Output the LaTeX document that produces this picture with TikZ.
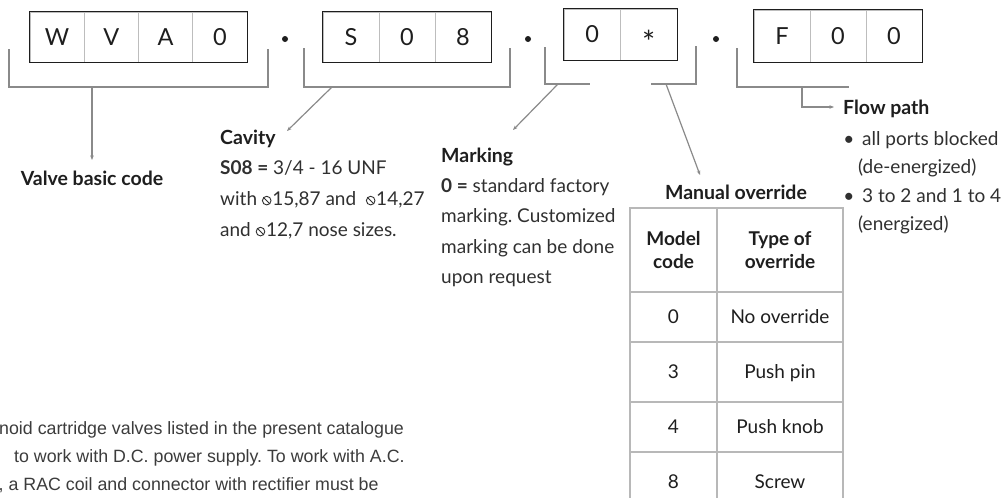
\documentclass[tikz,border=0pt]{standalone}
\usepackage{fontspec}
\setmainfont{Lato}
\newfontfamily\parafont{Liberation Sans}
\usetikzlibrary{arrows.meta}
\definecolor{ink}{HTML}{1E1E1E}
\definecolor{txt}{HTML}{303030}
\definecolor{brkc}{HTML}{8A8A8A}
\definecolor{divc}{HTML}{BDBDBD}
\definecolor{tblc}{HTML}{B8B8B8}
\definecolor{parac}{HTML}{3C3C3C}
% diameter sign (circle with reverse stroke), no installed family has U+29B8
\newcommand{\dia}{\tikz[baseline=0pt,x=1pt,y=1pt]{\draw[line width=0.9pt,txt] (0,4.4) circle (4.3pt);\draw[line width=0.9pt,txt] (-3.3,7.7) -- (3.3,1.1);}\hspace{0.8pt}}
\frenchspacing
\begin{document}
\begin{tikzpicture}[x=1pt,y=-1pt,
  brk/.style={draw=brkc, line width=1.2pt},
  arr/.style={brk, -{Stealth[length=4.5pt,width=3.5pt]}},
  cell/.style={draw=divc, line width=1pt, inner sep=0pt, minimum height=50pt,
    text height=16.5pt, text depth=0pt, font=\fontsize{23.5}{23.5}\selectfont, text=ink},
  outer/.style={draw=ink, line width=1.8pt},
  dotn/.style={circle, fill=ink, inner sep=0pt, minimum size=6pt},
  lbl/.style={anchor=base west, inner sep=0pt, font=\fontsize{19.5}{19.5}\selectfont\bfseries, text=ink},
  body/.style={anchor=base west, inner sep=0pt, font=\fontsize{19}{19}\selectfont, text=txt},
  para/.style={anchor=base west, inner sep=0pt, font=\parafont\fontsize{17.8}{17.8}\selectfont, text=parac},
  tcell/.style={draw=tblc, line width=1.5pt, inner sep=0pt, align=center, text=ink},
  trow/.style={tcell, text height=13pt, text depth=0pt, font=\fontsize{19}{19}\selectfont},
  thead/.style={tcell, font=\fontsize{19}{23}\selectfont\bfseries},
]
\clip (0,0) rectangle (1005,498);
\fill[white] (0,0) rectangle (1005,498);

% ---- code boxes ----
\node[cell, minimum width=54.25pt] (a1) at (57.125,37) {W};
\node[cell, minimum width=54.25pt] (a2) at (111.375,37) {V};
\node[cell, minimum width=54.25pt] (a3) at (165.625,37) {A};
\node[cell, minimum width=54.25pt] (a4) at (219.875,37) {0};
\draw[outer] (a1.north west) rectangle (a4.south east);

\node[cell, minimum width=56pt] (s1) at (351,37) {S};
\node[cell, minimum width=56pt] (s2) at (407,37) {0};
\node[cell, minimum width=56pt] (s3) at (463,37) {8};
\draw[outer] (s1.north west) rectangle (s3.south east);

\node[cell, minimum width=56.5pt, minimum height=51pt] (m1) at (592.25,34.5) {0};
\node[cell, minimum width=56.5pt, minimum height=51pt] (m2) at (648.75,34.5) {\raisebox{-10.5pt}{\fontsize{31}{31}\selectfont *}};
\draw[outer] (m1.north west) rectangle (m2.south east);

\node[cell, minimum width=56pt, minimum height=52pt] (f1) at (782,36) {F};
\node[cell, minimum width=56pt, minimum height=52pt] (f2) at (838,36) {0};
\node[cell, minimum width=56pt, minimum height=52pt] (f3) at (894,36) {0};
\draw[outer] (f1.north west) rectangle (f3.south east);

\node[dotn] (d1) at (285,39) {};
\node[dotn] (d2) at (528,39) {};
\node[dotn] (d3) at (716,39) {};

% ---- brackets ----
\coordinate (b1l) at (9,49);
\coordinate (b1r) at (268,49);
\coordinate (b1m) at (92,87);
\draw[brk] (b1l) -- (9,87) -- (268,87) -- (b1r);

\coordinate (b2l) at (304,48);
\coordinate (b2r) at (510,48);
\coordinate (b2m) at (332,87);
\draw[brk] (b2l) -- (304,87) -- (510,87) -- (b2r);

\coordinate (b3l) at (545,47);
\coordinate (b3le) at (590,84);
\coordinate (b3m) at (558,84);
\draw[brk] (b3l) -- (545,84) -- (b3le);

\coordinate (b3r) at (696,46);
\coordinate (b3re) at (651,84);
\coordinate (b3n) at (666,84);
\draw[brk] (b3re) -- (696,84) -- (b3r);

\coordinate (b4l) at (737,48);
\coordinate (b4e) at (849,87);
\coordinate (b4m) at (802,87);
\draw[brk] (b4l) -- (737,87) -- (b4e);

% ---- labels ----
\node[lbl, anchor=base] (vbc) at (92,185) {Valve basic code};
\draw[arr] (b1m) -- (vbc.north |- 0,160);

\node[lbl] (cav) at (220,144) {Cavity};
\node[body] (cav1) at (220,174) {\textbf{S08 =} 3/4 - 16 UNF};
\node[body] (cav2) at (220,205) {with \dia15,87 and \ \dia14,27};
\node[body] (cav3) at (220,236) {and \dia12,7 nose sizes.};
\coordinate (cavtip) at (287,131);
\draw[arr] (b2m) -- (cavtip);

\node[lbl] (mrk) at (441,162) {Marking};
\node[body] (mrk1) at (441,192) {\textbf{0 =} standard factory};
\node[body] (mrk2) at (441,222) {marking. Customized};
\node[body] (mrk3) at (441,253) {marking can be done};
\node[body] (mrk4) at (441,283) {upon request};
\coordinate (mrktip) at (513,130);
\draw[arr] (b3m) -- (mrktip);

\node[lbl, anchor=base] (mo) at (736,199) {Manual override};
\coordinate (motip) at (700,175);
\draw[arr] (b3n) -- (motip);

\node[lbl] (fp) at (843,114) {Flow path};
\coordinate (fptip) at (834,107);
\draw[arr] (b4m) -- (802,107) -- (fptip);
\node[body, anchor=base] (bu1) at (849,145) {•};
\node[body] (fp1) at (862,145) {all ports blocked};
\node[body] (fp2) at (858,173) {(de-energized)};
\node[body, anchor=base] (bu2) at (849,202) {•};
\node[body] (fp3) at (862,202) {3 to 2 and 1 to 4};
\node[body] (fp4) at (858,230) {(energized)};

% ---- table ----
\node[thead, minimum width=87pt, minimum height=84pt] (h1) at (673.5,250) {Model\\code};
\node[thead, minimum width=126pt, minimum height=84pt] (h2) at (780,250) {Type of\\override};
\node[trow, minimum width=87pt, minimum height=50pt] (r01) at (673.5,317) {0};
\node[trow, minimum width=126pt, minimum height=50pt] (r02) at (780,317) {No override};
\node[trow, minimum width=87pt, minimum height=60pt] (r31) at (673.5,372) {3};
\node[trow, minimum width=126pt, minimum height=60pt] (r32) at (780,372) {Push pin};
\node[trow, minimum width=87pt, minimum height=50pt] (r41) at (673.5,427) {4};
\node[trow, minimum width=126pt, minimum height=50pt] (r42) at (780,427) {Push knob};
\node[trow, minimum width=87pt, minimum height=60pt] (r81) at (673.5,482) {8};
\node[trow, minimum width=126pt, minimum height=60pt] (r82) at (780,482) {Screw};

% ---- bottom paragraph ----
\node[para] (p1) at (-1,434) {noid cartridge valves listed in the present catalogue};
\node[para] (p2) at (14,462) {to work with D.C. power supply. To work with A.C.};
\node[para] (p3) at (-1.5,490) {, a RAC coil and connector with rectifier must be};
\end{tikzpicture}
\end{document}
